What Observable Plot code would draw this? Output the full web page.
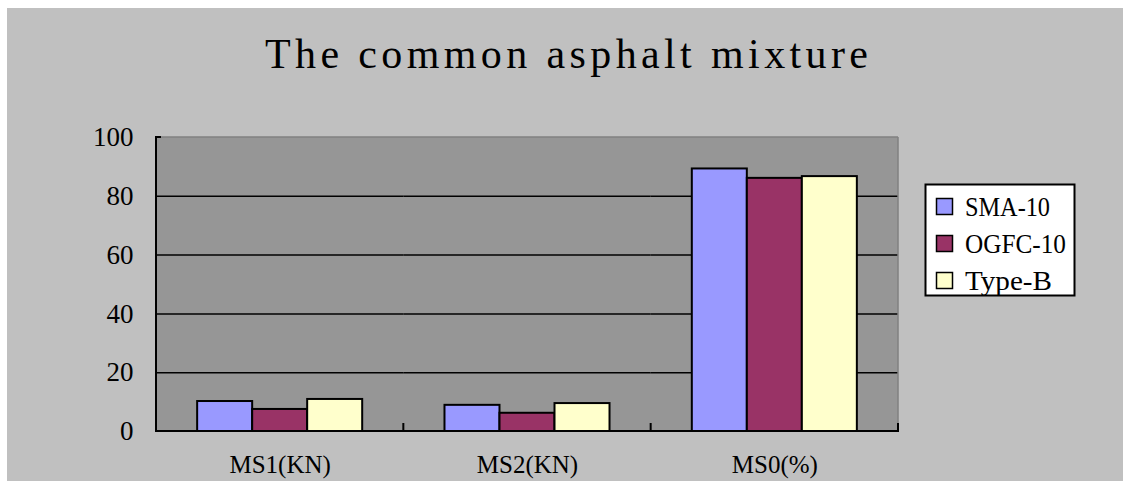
<!DOCTYPE html>
<html>
<head>
<meta charset="utf-8">
<script src="https://cdn.jsdelivr.net/npm/d3@7"></script>
<script src="https://cdn.jsdelivr.net/npm/@observablehq/plot@0.6"></script>
<style>
  html, body { margin: 0; padding: 0; background: #ffffff; }
  #chart svg { display: block; }
</style>
</head>
<body>
<div id="chart"></div>
<script>
// ---- data ----
const title = "The common asphalt mixture";
const categories = ["MS1(KN)", "MS2(KN)", "MS0(%)"];
const series = ["SMA-10", "OGFC-10", "Type-B"];
const sma10 = [10.2, 8.9, 89.3];
const ogfc10 = [7.5, 6.2, 86.1];
const typeB = [10.9, 9.5, 86.7];
const yTicks = [0, 20, 40, 60, 80, 100];
const gridTicks = [20, 40, 60, 80];
const colors = ["#9999FF", "#993366", "#FFFFCC"];

const valuesBySeries = [sma10, ogfc10, typeB];
const data = [];
categories.forEach((c, i) => {
  series.forEach((s, j) => data.push({category: c, series: s, value: valuesBySeries[j][i]}));
});

const W = 1123, H = 481;
const mL = 156, mR = 225, mT = 137, mB = 50;

const plot = Plot.plot({
  width: W, height: H,
  marginLeft: mL, marginRight: mR, marginTop: mT, marginBottom: mB,
  style: {background: "transparent", fontFamily: "'Liberation Serif', serif", color: "black"},
  fx: {domain: categories, padding: 0, round: false, label: null},
  x: {domain: series, paddingInner: 0, paddingOuter: 0.748, round: false, axis: null},
  y: {domain: [0, 100], axis: null},
  color: {domain: series, range: colors},
  marks: [
    Plot.ruleY(gridTicks, {stroke: "black", strokeWidth: 1.5}),
    Plot.barY(data, {fx: "category", x: "series", y: "value", fill: "series", stroke: "black", strokeWidth: 2}),
    Plot.axisY({ticks: yTicks, tickSize: 0, tickPadding: 23, fontSize: 27, label: null}),
    Plot.axisFx({anchor: "bottom", tickSize: 0, tickPadding: 24, fontSize: 25, label: null})
  ]
});

const svg = d3.select(plot);
const y = plot.scale("y");
const fx = plot.scale("fx");
const x0 = mL, x1 = W - mR, yTop = y.apply(100), yBot = y.apply(0);

// plot area background, then chart area background beneath it
svg.insert("rect", ":first-child")
  .attr("x", x0).attr("y", yTop).attr("width", x1 - x0).attr("height", yBot - yTop)
  .attr("fill", "#969696");
svg.insert("rect", ":first-child")
  .attr("x", 7).attr("y", 8).attr("width", W - 7).attr("height", H - 8)
  .attr("fill", "#C0C0C0");

const deco = svg.append("g");
// top and right plot borders (gray)
deco.append("line").attr("x1", x0).attr("x2", x1).attr("y1", yTop).attr("y2", yTop)
  .attr("stroke", "#808080").attr("stroke-width", 1.5);
deco.append("line").attr("x1", x1).attr("x2", x1).attr("y1", yTop).attr("y2", yBot)
  .attr("stroke", "#808080").attr("stroke-width", 1.5);
// left and bottom axis lines (black)
deco.append("line").attr("x1", x0).attr("x2", x0).attr("y1", yTop - 1).attr("y2", yBot + 1)
  .attr("stroke", "black").attr("stroke-width", 2);
deco.append("line").attr("x1", x0 - 1).attr("x2", x1 + 1).attr("y1", yBot).attr("y2", yBot)
  .attr("stroke", "black").attr("stroke-width", 2);
// short y tick at top
deco.append("line").attr("x1", x0).attr("x2", x0 + 5).attr("y1", yTop).attr("y2", yTop)
  .attr("stroke", "black").attr("stroke-width", 2);
// category boundary ticks (pointing up)
categories.forEach(c => {
  const xb = fx.apply(c) + fx.bandwidth;
  deco.append("line").attr("x1", xb).attr("x2", xb).attr("y1", yBot - 8).attr("y2", yBot)
    .attr("stroke", "black").attr("stroke-width", 2);
});

// title
svg.append("text")
  .attr("x", 566.5).attr("y", 68)
  .attr("text-anchor", "middle")
  .attr("font-family", "'Liberation Serif', serif")
  .attr("font-size", 42)
  .attr("textLength", 603).attr("lengthAdjust", "spacing")
  .attr("fill", "black")
  .text(title);

// legend
const lg = svg.append("g");
lg.append("rect").attr("x", 925.5).attr("y", 184.5).attr("width", 149).attr("height", 111)
  .attr("fill", "white").attr("stroke", "black").attr("stroke-width", 2);
const legendLens = [85, 101, 87];
series.forEach((s, i) => {
  const ry = 198 + i * 37;
  lg.append("rect").attr("x", 936.5).attr("y", ry + 0.5).attr("width", 16).attr("height", 16)
    .attr("fill", plot.scale("color").apply(s)).attr("stroke", "black").attr("stroke-width", 1.5);
  lg.append("text").attr("x", 965).attr("y", ry + 18)
    .attr("text-anchor", "start")
    .attr("font-family", "'Liberation Serif', serif").attr("font-size", 27)
    .attr("textLength", legendLens[i]).attr("lengthAdjust", "spacingAndGlyphs")
    .attr("fill", "black").text(s);
});

document.getElementById("chart").appendChild(plot);
</script>
</body>
</html>
